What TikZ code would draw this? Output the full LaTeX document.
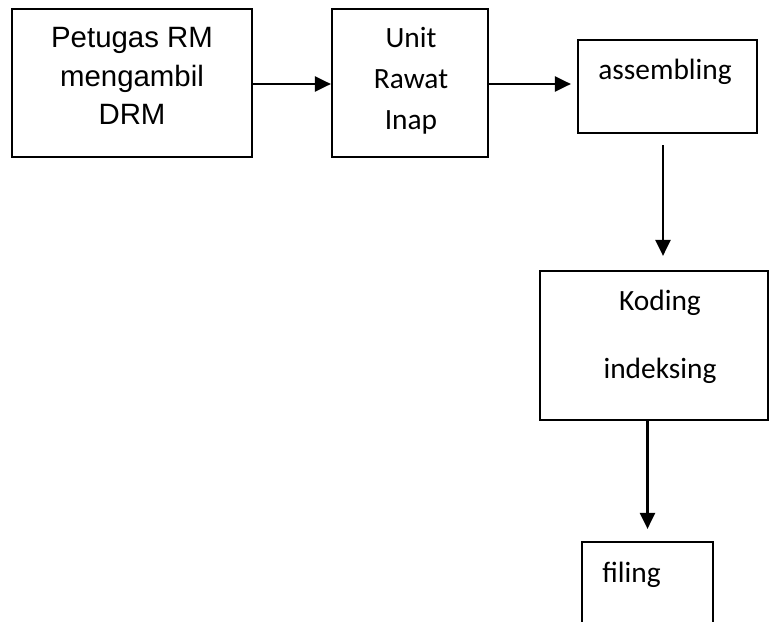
\documentclass[tikz,border=0pt]{standalone}
\usepackage{fontspec}
\newfontfamily\arialf{Liberation Sans}
\newfontfamily\calf{Carlito}
\usetikzlibrary{arrows.meta,positioning}
\tikzset{
  stepbox/.style={draw=black, line width=2.2bp, rectangle, inner sep=0pt},
  flow/.style={draw=black, line width=2.4bp, -{Triangle[length=16bp,width=15bp]}},
  sanslabel/.style={anchor=base, inner sep=0pt, font=\arialf\fontsize{29.5}{34}\selectfont},
  callabel/.style={anchor=base, inner sep=0pt, font=\calf\fontsize{29.5}{34}\selectfont},
}
\begin{document}
\begin{tikzpicture}[x=1bp, y=-1bp]
  \useasboundingbox (0,0) rectangle (769,622);
  \fill[white] (0,0) rectangle (769,622);

  % boxes
  \node[stepbox, minimum width=240bp, minimum height=148bp] (b1) at (132,83) {};
  \node[stepbox, minimum width=156bp, minimum height=148bp] (b2) at (410,83) {};
  \node[stepbox, minimum width=179bp, minimum height=93bp]  (b3) at (667.5,86.5) {};
  \node[stepbox, minimum width=228bp, minimum height=149bp] (b4) at (654,345.5) {};
  \node[stepbox, minimum width=131bp, minimum height=110bp] (b5) at (647.5,597) {};

  % labels
  \node[sanslabel] (t1a) at (132,48)  {Petugas RM};
  \node[sanslabel] (t1b) at (132,87)  {mengambil};
  \node[sanslabel] (t1c) at (132,125) {DRM};
  \node[callabel] (t2a) at (411,48)  {Unit};
  \node[callabel] (t2b) at (411,89)  {Rawat};
  \node[callabel] (t2c) at (411,130) {Inap};
  \node[callabel] (t3) at (665,80)  {assembling};
  \node[callabel] (t4a) at (660,310) {Koding};
  \node[callabel] (t4b) at (660,378) {indeksing};
  \node[callabel] (t5) at (631.5,582) {filing};

  % connectors
  \draw[flow] ([xshift=-2bp,yshift=-1bp]b1.east) -- ([yshift=-1bp]b2.west);
  \draw[flow, shorten >=6bp] ([yshift=-1bp]b2.east) -- ([yshift=-1bp]b2.east -| b3.west);
  \draw[flow, shorten <=11bp, shorten >=14bp] ([xshift=-4.5bp]b3.south) -- ([xshift=-4.5bp]b3.south |- b4.north);
  \draw[flow, shorten >=12bp] (b4.south -| b5.north) -- (b5.north);
\end{tikzpicture}
\end{document}
